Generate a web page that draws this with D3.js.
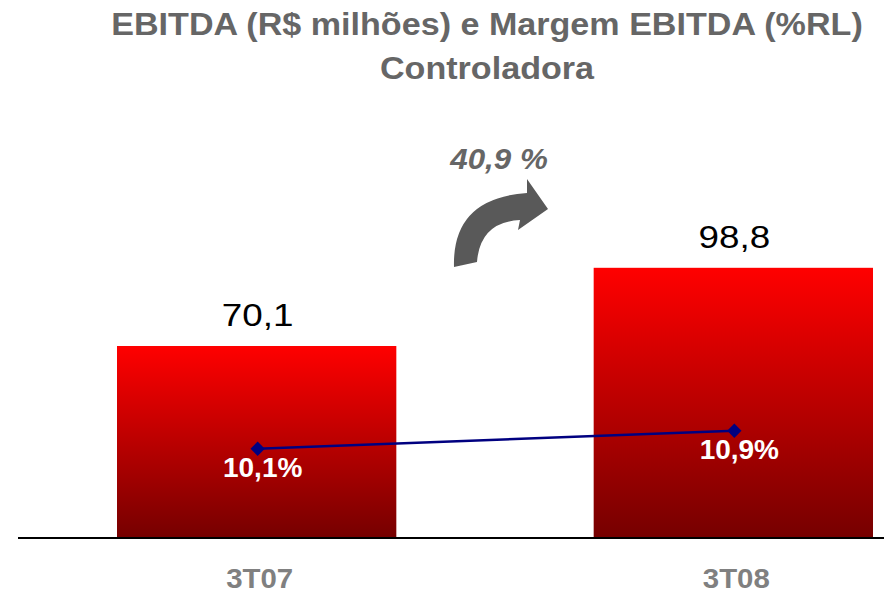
<!DOCTYPE html>
<html>
<head>
<meta charset="utf-8">
<script src="https://cdnjs.cloudflare.com/ajax/libs/d3/7.8.5/d3.min.js"></script>
<style>
  body { margin: 0; background: #fff; }
  text { font-family: "Liberation Sans", Arial, sans-serif; }
</style>
</head>
<body>
<div id="canvas"></div>
<script>
// Chart data
var periods = ["3T07", "3T08"];
var ebitda = [70.1, 98.8];
var margem = [10.1, 10.9];
var ebitdaLabels = ["70,1", "98,8"];
var margemLabels = ["10,1%", "10,9%"];
var growthLabel = "40,9 %";
var titleLines = ["EBITDA (R$ milhões) e Margem EBITDA (%RL)", "Controladora"];

var w = 884, h = 594;
var baseY = 537;

var svg = d3.select("#canvas")
    .append("svg")
    .attr("width", w)
    .attr("height", h);

// Scales
var x_scale = d3.scaleBand()
    .domain(periods)
    .range([117, 873])
    .paddingInner(0.414)
    .paddingOuter(0);

var y_scale = d3.scaleLinear()
    .domain([0, 70.1])
    .range([baseY, 346]);

var y2_scale = d3.scaleLinear()
    .domain([6, 16])
    .range([541, 316]);

var cx = d => x_scale(d.period) + x_scale.bandwidth() / 2;

// the original looks a bit stretched sideways, so widen text a little
function stretch(sel, f) {
    sel.each(function() {
        var len = this.getComputedTextLength();
        d3.select(this)
            .attr("textLength", len * f)
            .attr("lengthAdjust", "spacingAndGlyphs");
    });
}

// Gradient for bars
var defs = svg.append("defs");
var grad = defs.append("linearGradient")
    .attr("id", "barGrad")
    .attr("x1", 0).attr("y1", 0)
    .attr("x2", 0).attr("y2", 1);
grad.append("stop").attr("offset", "0%").attr("stop-color", "#ff0000");
grad.append("stop").attr("offset", "100%").attr("stop-color", "#760000");

// Title
svg.selectAll(".title")
    .data(titleLines)
    .join("text")
    .attr("class", "title")
    .attr("x", 487)
    .attr("y", (d, i) => 35 + i * 44)
    .attr("text-anchor", "middle")
    .style("font-size", "31px")
    .style("font-weight", "bold")
    .style("fill", "#666666")
    .text(d => d)
    .call(stretch, 1.1);

// Bars
var data = periods.map((p, i) => ({period: p, value: ebitda[i], margin: margem[i],
    vLabel: ebitdaLabels[i], mLabel: margemLabels[i]}));

svg.selectAll(".bar")
    .data(data)
    .join("rect")
    .attr("class", "bar")
    .attr("x", d => x_scale(d.period))
    .attr("y", d => y_scale(d.value))
    .attr("width", x_scale.bandwidth())
    .attr("height", d => baseY - y_scale(d.value))
    .attr("fill", "url(#barGrad)");

// Value labels
svg.selectAll(".vlabel")
    .data(data)
    .join("text")
    .attr("class", "vlabel")
    .attr("x", d => cx(d) + 1)
    .attr("y", d => y_scale(d.value) - 20)
    .attr("text-anchor", "middle")
    .style("font-size", "32px")
    .style("fill", "#000")
    .text(d => d.vLabel)
    .call(stretch, 1.15);

// Axis line
svg.append("line")
    .attr("x1", 18).attr("x2", w)
    .attr("y1", baseY + 1).attr("y2", baseY + 1)
    .attr("stroke", "#000")
    .attr("stroke-width", 2);

// Category labels
svg.selectAll(".cat")
    .data(data)
    .join("text")
    .attr("class", "cat")
    .attr("x", d => cx(d) + 3)
    .attr("y", 588)
    .attr("text-anchor", "middle")
    .style("font-size", "28px")
    .style("font-weight", "bold")
    .style("fill", "#808080")
    .text(d => d.period)
    .call(stretch, 1.05);

// Margin line
var line = d3.line()
    .x(d => cx(d) + 1)
    .y(d => y2_scale(d.margin));

svg.append("path")
    .datum(data)
    .attr("d", line)
    .attr("fill", "none")
    .attr("stroke", "#000080")
    .attr("stroke-width", 2.5);

svg.selectAll(".marker")
    .data(data)
    .join("path")
    .attr("class", "marker")
    .attr("d", d3.symbol().type(d3.symbolDiamond2).size(130))
    .attr("transform", d => `translate(${cx(d) + 1},${y2_scale(d.margin)})`)
    .attr("fill", "#000080");

svg.selectAll(".mlabel")
    .data(data)
    .join("text")
    .attr("class", "mlabel")
    .attr("x", d => cx(d) + 6)
    .attr("y", d => y2_scale(d.margin) + 28)
    .attr("text-anchor", "middle")
    .style("font-size", "28px")
    .style("font-weight", "bold")
    .style("fill", "#ffffff")
    .text(d => d.mLabel);

// Growth arrow
svg.append("path")
    .attr("d", "M454,267 Q452,198 527,193 L527,179 L548,209 L518,230 L520,220 Q480,222 477,262 Z")
    .attr("fill", "#595959");

svg.append("text")
    .attr("x", 499)
    .attr("y", 169)
    .attr("text-anchor", "middle")
    .style("font-size", "29px")
    .style("font-weight", "bold")
    .style("font-style", "italic")
    .style("fill", "#666666")
    .text(growthLabel)
    .call(stretch, 1.08);
</script>
</body>
</html>
